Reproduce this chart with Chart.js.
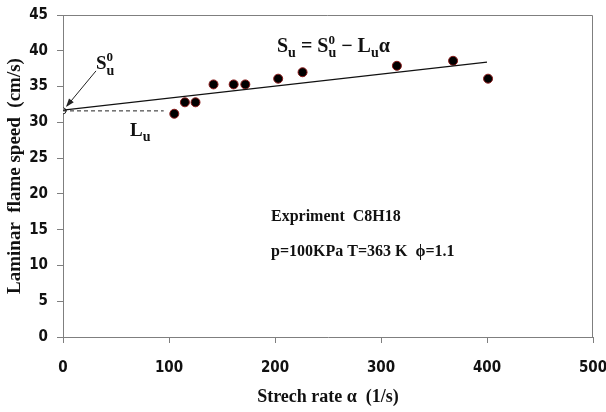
<!DOCTYPE html>
<html>
<head>
<meta charset="utf-8">
<script src="https://cdn.jsdelivr.net/npm/chart.js@4"></script>
<style>
  html, body { margin: 0; padding: 0; background: #fff; }
  #wrap { width: 606px; height: 412px; }
</style>
</head>
<body>
<div id="wrap"><canvas id="c" width="606" height="412"></canvas></div>
<script>
// measured points (stretch rate vs flame speed)
var alpha = [105, 115, 125, 142, 161, 172, 203, 226, 315, 368, 401];
var speed = [31.2, 32.8, 32.8, 35.3, 35.3, 35.3, 36.1, 37.0, 37.9, 38.6, 36.1];

// linear fit and the extrapolated intercept
var fitAlpha = [0, 400];
var fitSpeed = [31.7, 38.4];
var dashAlpha = [0, 95];
var dashSpeed = [31.6, 31.6];
var zeroAlpha = [0];
var zeroSpeed = [31.6];

var xTicks = [0, 100, 200, 300, 400, 500];
var yTicks = [0, 5, 10, 15, 20, 25, 30, 35, 40, 45];

function pairs(xs, ys) {
	return xs.map(function(x, i) { return {x: x, y: ys[i]}; });
}

var TICK_FONT = "'Liberation Sans Narrow', 'DejaVu Sans Condensed', sans-serif";
var SERIF = "'Liberation Serif', 'DejaVu Serif', serif";

// draw a run of text pieces: {t, size, dy, back} ; back = go back to start of previous piece
function drawRun(ctx, x, y, pieces, weight) {
	var prevStart = x;
	pieces.forEach(function(p) {
		ctx.font = (weight || '') + ' ' + p.size + 'px ' + SERIF;
		var startX = p.back ? prevStart : x;
		ctx.fillText(p.t, startX, y + (p.dy || 0));
		prevStart = startX;
		var w = ctx.measureText(p.t).width;
		x = Math.max(x, startX + w);
	});
}

var decorations = {
	id: 'decorations',
	afterDatasetsDraw: function(chart) {
		var ctx = chart.ctx;
		var a = chart.chartArea;
		var xs = chart.scales.x, ys = chart.scales.y;
		ctx.save();
		// frame
		ctx.strokeStyle = '#7f7f7f';
		ctx.lineWidth = 1;
		ctx.beginPath();
		ctx.moveTo(a.left, a.top + 0.5);
		ctx.lineTo(a.right - 0.5, a.top + 0.5);
		ctx.lineTo(a.right - 0.5, a.bottom);
		ctx.stroke();

		// arrow pointing at the intercept
		var ix = xs.getPixelForValue(zeroAlpha[0]);
		var iy = ys.getPixelForValue(zeroSpeed[0]);
		var sx = ix + 33, sy = iy - 40;
		ctx.strokeStyle = '#222';
		ctx.fillStyle = '#222';
		ctx.beginPath();
		ctx.moveTo(sx, sy);
		ctx.lineTo(ix + 4, iy - 5);
		ctx.stroke();
		var ang = Math.atan2((iy - 5) - sy, (ix + 4) - sx);
		ctx.beginPath();
		ctx.moveTo(ix + 3, iy - 4);
		ctx.lineTo(ix + 3 - 9 * Math.cos(ang - 0.35), iy - 4 - 9 * Math.sin(ang - 0.35));
		ctx.lineTo(ix + 3 - 9 * Math.cos(ang + 0.35), iy - 4 - 9 * Math.sin(ang + 0.35));
		ctx.closePath();
		ctx.fill();

		ctx.fillStyle = '#111';
		ctx.textBaseline = 'alphabetic';
		ctx.textAlign = 'left';
		// S_u^0 label
		drawRun(ctx, 96, 69, [
			{t: 'S', size: 19},
			{t: 'u', size: 14, dy: 6},
			{t: '0', size: 13, dy: -8, back: true}
		], 'bold');
		// L_u label
		drawRun(ctx, 130, 136, [
			{t: 'L', size: 19},
			{t: 'u', size: 14, dy: 5}
		], 'bold');
		// equation
		drawRun(ctx, 277, 52, [
			{t: 'S', size: 20},
			{t: 'u', size: 14, dy: 5},
			{t: ' = S', size: 20},
			{t: 'u', size: 14, dy: 5},
			{t: '0', size: 13, dy: -8, back: true},
			{t: ' \u2212 L', size: 20},
			{t: 'u', size: 14, dy: 5},
			{t: '\u03b1', size: 20}
		], 'bold');
		// experiment info
		ctx.font = 'bold 16px ' + SERIF;
		ctx.fillText('Expriment  C8H18', 271, 221);
		ctx.fillText('p=100KPa T=363 K  \u03d5=1.1', 271, 256);
		ctx.restore();
	}
};

new Chart(document.getElementById('c'), {
	type: 'scatter',
	data: {
		datasets: [
			{
				label: 'fit',
				data: pairs(fitAlpha, fitSpeed),
				showLine: true,
				borderColor: '#111',
				borderWidth: 1.3,
				pointRadius: 0
			},
			{
				label: 'dash',
				data: pairs(dashAlpha, dashSpeed),
				showLine: true,
				borderColor: '#222',
				borderWidth: 1,
				borderDash: [4, 3],
				pointRadius: 0
			},
			{
				label: 'intercept',
				data: pairs(zeroAlpha, zeroSpeed),
				pointRadius: 3,
				pointBackgroundColor: '#fff',
				pointBorderColor: '#222',
				pointBorderWidth: 1
			},
			{
				label: 'experiment',
				data: pairs(alpha, speed),
				pointRadius: 4.5,
				pointBackgroundColor: '#000',
				pointBorderColor: '#8b1a1a',
				pointBorderWidth: 1
			}
		]
	},
	options: {
		responsive: false,
		animation: false,
		layout: { padding: { top: 15, right: 13, left: 0, bottom: 0 } },
		plugins: { legend: { display: false }, tooltip: { enabled: false } },
		scales: {
			x: {
				type: 'linear',
				min: 0, max: 500,
				afterBuildTicks: function(s) { s.ticks = xTicks.map(function(v) { return {value: v}; }); },
				afterFit: function(s) {
					s.height = 75;
					s.paddingLeft = 0;
					s.paddingRight = 0;
				},
				grid: { drawOnChartArea: false, tickLength: 6, color: '#7f7f7f' },
				border: { color: '#7f7f7f', width: 1 },
				ticks: {
					padding: 16,
					color: '#111',
					font: { family: TICK_FONT, size: 15, weight: 'bold' }
				},
				title: {
					display: true,
					text: 'Strech rate \u03b1  (1/s)',
					color: '#111',
					padding: { top: 4 },
					font: { family: SERIF, size: 18, weight: 'bold' }
				}
			},
			y: {
				type: 'linear',
				min: 0, max: 45,
				afterBuildTicks: function(s) { s.ticks = yTicks.map(function(v) { return {value: v}; }); },
				afterFit: function(s) {
					s.width = 63;
					s.paddingTop = 0;
					s.paddingBottom = 0;
				},
				grid: { drawOnChartArea: false, tickLength: 6, color: '#7f7f7f' },
				border: { color: '#7f7f7f', width: 1 },
				ticks: {
					padding: 9,
					color: '#111',
					font: { family: TICK_FONT, size: 15, weight: 'bold' }
				},
				title: {
					display: true,
					text: 'Laminar  flame speed  (cm/s)',
					color: '#111',
					padding: { bottom: 0 },
					font: { family: SERIF, size: 19, weight: 'bold' }
				}
			}
		}
	},
	plugins: [decorations]
});
</script>
</body>
</html>
